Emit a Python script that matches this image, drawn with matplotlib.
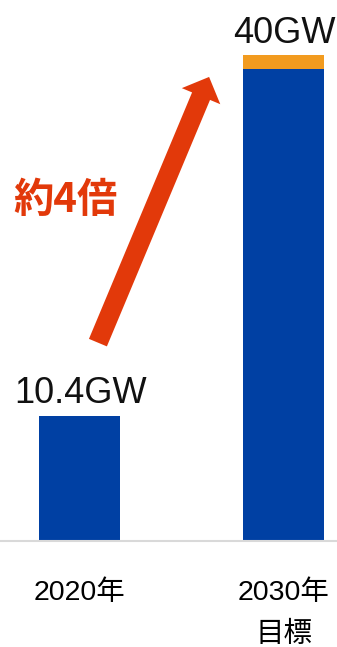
import matplotlib.pyplot as plt
from matplotlib.patches import FancyArrowPatch

plt.rcParams['font.family'] = ['Liberation Sans', 'Noto Sans CJK JP']

years = ['2020年', '2030年\n目標']
base = [10.4, 39.3]
extra = [0.0, 1.1]
totals = ['10.4GW', '40GW']

blue = '#0040A3'
orange = '#F29B1F'
red = '#E2390A'

fig = plt.figure(figsize=(3.37, 6.47), dpi=100)
ax = fig.add_axes([0, 1 - 541 / 647, 1, 541 / 647])

x = [0, 1]
ax.bar(x, base, width=0.40, color=blue)
ax.bar(x, extra, bottom=base, width=0.40, color=orange)

for i in x:
    ax.text(i + 0.005, base[i] + extra[i] + 1.05, totals[i], ha='center', va='baseline',
            fontsize=26, color='#111111')

ax.set_xlim(-0.39, 1.262)
ax.set_ylim(0, 45)
ax.set_xticks(x)
ax.set_xticklabels(years, fontsize=20.5, linespacing=1.78, va='top')
ax.tick_params(axis='x', length=0, pad=28)
ax.set_yticks([])
for s in ['left', 'right', 'top']:
    ax.spines[s].set_visible(False)
ax.spines['bottom'].set_color('#D9D9D9')
ax.spines['bottom'].set_linewidth(1.5)

arrow = FancyArrowPatch((0.09, 16.5), (0.635, 38.6),
                        arrowstyle='simple,head_length=15,head_width=30,tail_width=14',
                        mutation_scale=1, color=red, shrinkA=0, shrinkB=0, lw=0)
ax.add_patch(arrow)

ax.text(-0.07, 28.3, '約4倍', ha='center', va='center', fontsize=29,
        fontweight='bold', color=red, family=['Noto Sans CJK JP'])

fig.savefig('out.png', dpi=100)
